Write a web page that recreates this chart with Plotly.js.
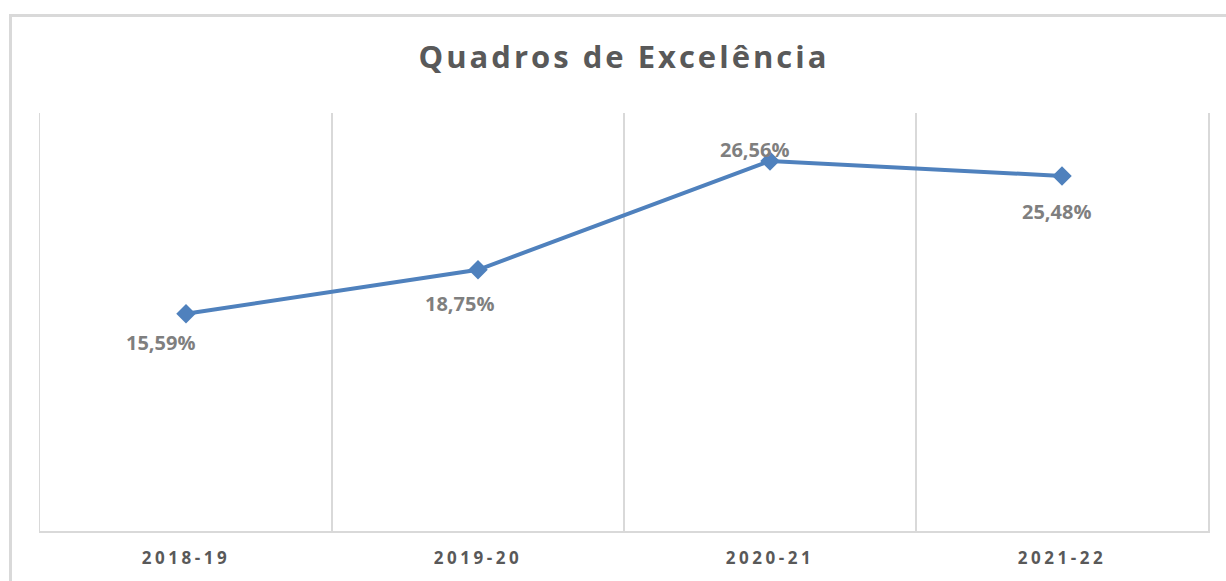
<!DOCTYPE html>
<html>
<head>
<meta charset="utf-8">
<script src="https://cdn.plot.ly/plotly-3.0.1.min.js"></script>
<style>
  html, body { margin: 0; padding: 0; background: #ffffff; }
  #frame { position: absolute; left: 9px; top: 14px; width: 1400px; height: 800px; border: 3px solid #d9d9d9; background: #ffffff; }
  #chart { position: absolute; left: 0; top: 0; width: 1226px; height: 581px; }
  .gtitle { letter-spacing: 3px; }
  .xtick text { letter-spacing: 3.5px; }
</style>
</head>
<body>
<div id="frame"></div>
<div id="chart"></div>
<script>
const categories = ['2018-19', '2019-20', '2020-21', '2021-22'];
const values = [15.59, 18.75, 26.56, 25.48];
const labelTexts = ['15,59%', '18,75%', '26,56%', '25,48%'];

// label placement (style only)
const labelXShift = [-26, -19, -16, -6];
const labelYShift = [-29, -34, 11, -36];

const trace = {
  x: categories,
  y: values,
  type: 'scatter',
  mode: 'lines+markers',
  line: { color: '#4f81bd', width: 4 },
  marker: { symbol: 'diamond', size: 15, color: '#4f81bd' },
  hoverinfo: 'skip'
};

const annotations = categories.map((c, i) => ({
  x: c, y: values[i], xref: 'x', yref: 'y',
  text: labelTexts[i], showarrow: false,
  xshift: labelXShift[i], yshift: labelYShift[i],
  font: { family: 'Open Sans', size: 20, color: '#7f7f7f', weight: 'bold' }
}));

const layout = {
  width: 1226, height: 581,
  margin: { l: 40, r: 18, t: 113, b: 50 },
  paper_bgcolor: 'rgba(0,0,0,0)',
  plot_bgcolor: 'rgba(0,0,0,0)',
  showlegend: false,
  title: {
    text: 'Quadros de Excelência',
    x: 0.5, xref: 'paper', xanchor: 'center',
    y: 0.902, yref: 'container', yanchor: 'middle',
    font: { family: 'Open Sans', size: 31, color: '#595959', weight: 'bold' }
  },
  xaxis: {
    type: 'category',
    range: [-0.5, 3.5],
    tickson: 'boundaries',
    showgrid: true, gridcolor: '#d9d9d9', gridwidth: 1.5,
    showline: true, linecolor: '#d9d9d9', linewidth: 2,
    ticks: '', ticklen: 0,
    ticklabelstandoff: 11,
    tickfont: { family: 'Open Sans', size: 17, color: '#595959', weight: 'bold' },
    fixedrange: true
  },
  yaxis: {
    range: [0, 30],
    showgrid: false, zeroline: false,
    showticklabels: false, ticks: '',
    showline: true, mirror: true, linecolor: '#d9d9d9', linewidth: 1.5,
    fixedrange: true
  },
  annotations: annotations
};

Plotly.newPlot('chart', [trace], layout, { displayModeBar: false, staticPlot: true });
</script>
</body>
</html>
